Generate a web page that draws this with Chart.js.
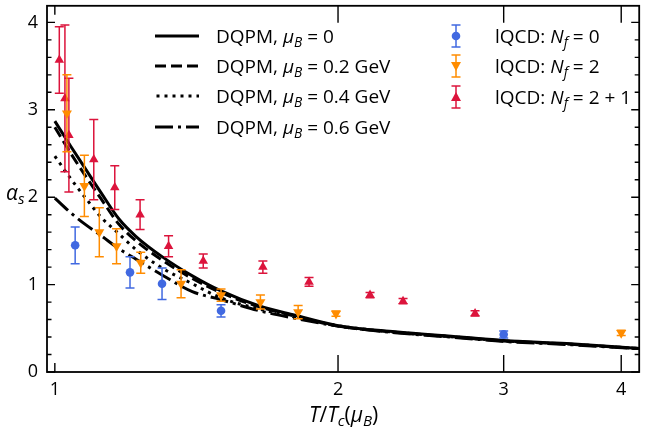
<!DOCTYPE html>
<html>
<head>
<meta charset="utf-8">
<script src="https://cdn.jsdelivr.net/npm/chart.js@4.4.0/dist/chart.umd.min.js"></script>
<style>
  body { margin: 0; background: #fff; }
  #wrap { position: relative; width: 645px; height: 434px; font-family: "Open Sans", sans-serif; color: #000; }
  #wrap canvas { position: absolute; left: 0; top: 0; }
  .txt { position: absolute; white-space: nowrap; font-size: 19px; line-height: 22px; }
  .txt sub { font-size: 0.72em; position: relative; top: 0.28em; vertical-align: baseline; line-height: 0; }
  .sample { position: absolute; }
</style>
</head>
<body>
<div id="wrap">
  <canvas id="canvas-1" width="645" height="434"></canvas>

  <svg class="sample" style="left:155px;top:31px" width="44" height="10"><line x1="0" y1="5" x2="44" y2="5" stroke="#000" stroke-width="3"/></svg>
  <div class="txt" style="left:216px;top:25px">DQPM, <i>μ</i><sub><i>B</i></sub> = 0</div>
  <svg class="sample" style="left:155px;top:61px" width="44" height="10"><line x1="0" y1="5" x2="44" y2="5" stroke="#000" stroke-width="3" stroke-dasharray="11,5"/></svg>
  <div class="txt" style="left:216px;top:55px">DQPM, <i>μ</i><sub><i>B</i></sub> = 0.2 GeV</div>
  <svg class="sample" style="left:155px;top:91px" width="44" height="10"><line x1="1.5" y1="5" x2="44" y2="5" stroke="#000" stroke-width="3" stroke-dasharray="3,5"/></svg>
  <div class="txt" style="left:216px;top:85px">DQPM, <i>μ</i><sub><i>B</i></sub> = 0.4 GeV</div>
  <svg class="sample" style="left:155px;top:122px" width="44" height="10"><line x1="0" y1="5" x2="44" y2="5" stroke="#000" stroke-width="3" stroke-dasharray="18,5,3,5"/></svg>
  <div class="txt" style="left:216px;top:116px">DQPM, <i>μ</i><sub><i>B</i></sub> = 0.6 GeV</div>

  <svg class="sample" style="left:446px;top:24px" width="20" height="24">
    <g stroke="#4169E1" stroke-width="1.5"><line x1="10" y1="1" x2="10" y2="23"/><line x1="5.5" y1="1" x2="14.5" y2="1"/><line x1="5.5" y1="23" x2="14.5" y2="23"/></g>
    <circle cx="10" cy="12" r="4.3" fill="#4169E1"/>
  </svg>
  <div class="txt" style="left:495px;top:25px">lQCD: <i>N</i><sub><i>f</i></sub> = 0</div>
  <svg class="sample" style="left:446px;top:54px" width="20" height="24">
    <g stroke="#FF8C00" stroke-width="1.5"><line x1="10" y1="1" x2="10" y2="23"/><line x1="5.5" y1="1" x2="14.5" y2="1"/><line x1="5.5" y1="23" x2="14.5" y2="23"/></g>
    <polygon points="5,8 15,8 10,17" fill="#FF8C00"/>
  </svg>
  <div class="txt" style="left:495px;top:55px">lQCD: <i>N</i><sub><i>f</i></sub> = 2</div>
  <svg class="sample" style="left:446px;top:85px" width="20" height="24">
    <g stroke="#DC143C" stroke-width="1.5"><line x1="10" y1="1" x2="10" y2="23"/><line x1="5.5" y1="1" x2="14.5" y2="1"/><line x1="5.5" y1="23" x2="14.5" y2="23"/></g>
    <polygon points="5,16 15,16 10,7" fill="#DC143C"/>
  </svg>
  <div class="txt" style="left:495px;top:86px">lQCD: <i>N</i><sub><i>f</i></sub> = 2 + 1</div>

  <div class="txt" style="left:6px;top:181px;font-size:21px"><i>α</i><sub><i>s</i></sub></div>
  <div class="txt" style="left:309px;top:403px;font-size:21px"><i>T</i>/<i>T</i><sub><i>c</i></sub>(<i>μ</i><sub><i>B</i></sub>)</div>
</div>

<script>
  'use strict';

  // axis ticks
  var tTicks = [1, 2, 3, 4];
  var alphaTicks = [0, 1, 2, 3, 4];

  // DQPM curves
  var dqpmT = [1.0, 1.04, 1.08, 1.12, 1.17, 1.22, 1.3, 1.4, 1.5, 1.65, 1.8, 2.0, 2.3, 2.7, 3.0, 3.5, 4.18];
  var dqpmMu00 = [2.87, 2.58, 2.31, 2.05, 1.75, 1.55, 1.32, 1.10, 0.93, 0.755, 0.65, 0.53, 0.46, 0.40, 0.36, 0.325, 0.27];
  var dqpmMu02 = [2.80, 2.50, 2.23, 1.98, 1.69, 1.50, 1.28, 1.07, 0.91, 0.745, 0.64, 0.525, 0.455, 0.395, 0.355, 0.32, 0.268];
  var dqpmMu04 = [2.47, 2.21, 1.98, 1.77, 1.58, 1.40, 1.19, 1.01, 0.85, 0.72, 0.63, 0.53, 0.455, 0.395, 0.355, 0.32, 0.267];
  var dqpmMu06 = [1.99, 1.82, 1.68, 1.56, 1.41, 1.29, 1.11, 0.92, 0.83, 0.70, 0.615, 0.525, 0.45, 0.39, 0.35, 0.315, 0.265];

  // lattice QCD points
  var nf0T = [1.051, 1.202, 1.300, 1.502, 3.0];
  var nf0A = [1.45, 1.14, 1.01, 0.70, 0.43];
  var nf0E = [0.21, 0.18, 0.18, 0.07, 0.04];

  var nf2T = [1.030, 1.075, 1.115, 1.163, 1.234, 1.362, 1.502, 1.654, 1.814, 1.99, 4.0];
  var nf2A = [2.96, 2.13, 1.60, 1.44, 1.25, 1.01, 0.88, 0.80, 0.685, 0.667, 0.447];
  var nf2E = [0.44, 0.35, 0.28, 0.20, 0.12, 0.16, 0.07, 0.08, 0.075, 0.03, 0.03];

  var nf21T = [1.011, 1.025, 1.035, 1.100, 1.158, 1.232, 1.321, 1.438, 1.664, 1.863, 2.163, 2.345, 2.797];
  var nf21A = [3.57, 3.13, 2.71, 2.43, 2.11, 1.80, 1.44, 1.27, 1.20, 1.03, 0.88, 0.81, 0.67];
  var nf21E = [0.38, 0.84, 0.65, 0.46, 0.25, 0.17, 0.12, 0.08, 0.07, 0.05, 0.03, 0.03, 0.03];

  function pts(xs, ys) {
    return xs.map(function (v, i) { return { x: v, y: ys[i] }; });
  }

  function curve(vals, dash) {
    return {
      data: pts(dqpmT, vals),
      showLine: true,
      borderColor: '#000',
      borderWidth: 3,
      borderDash: dash,
      pointRadius: 0,
      cubicInterpolationMode: 'monotone',
      order: 2
    };
  }

  function lqcd(xs, ys, errs, color, style, rot, r) {
    return {
      data: pts(xs, ys),
      errors: errs,
      backgroundColor: color,
      borderColor: color,
      borderWidth: 0,
      pointStyle: style,
      rotation: rot,
      pointRadius: r,
      order: 1
    };
  }

  var errorBars = {
    id: 'errorBars',
    beforeDatasetDraw: function (chart, args) {
      var ds = chart.data.datasets[args.index];
      if (!ds.errors) return;
      var ctx = chart.ctx, xs = chart.scales.x, ys = chart.scales.y;
      ctx.save();
      ctx.strokeStyle = ds.borderColor;
      ctx.lineWidth = 1.5;
      ds.data.forEach(function (p, i) {
        var px = xs.getPixelForValue(p.x);
        var top = ys.getPixelForValue(p.y + ds.errors[i]);
        var bot = ys.getPixelForValue(p.y - ds.errors[i]);
        ctx.beginPath();
        ctx.moveTo(px, top); ctx.lineTo(px, bot);
        ctx.moveTo(px - 4.5, top); ctx.lineTo(px + 4.5, top);
        ctx.moveTo(px - 4.5, bot); ctx.lineTo(px + 4.5, bot);
        ctx.stroke();
      });
      ctx.restore();
    }
  };

  // frame + inward tick marks on all four sides
  var frameTicks = {
    id: 'frameTicks',
    afterDraw: function (chart) {
      var ctx = chart.ctx, a = chart.chartArea, xs = chart.scales.x, ys = chart.scales.y;
      ctx.save();
      ctx.strokeStyle = '#000';
      ctx.lineWidth = 1.8;
      ctx.strokeRect(a.left, a.top, a.right - a.left, a.bottom - a.top);
      ctx.lineWidth = 1.4;
      ctx.beginPath();
      for (var k = 0; k <= 21; k++) {
        var v = k * 0.2;
        if (v > ys.max) break;
        var py = ys.getPixelForValue(v);
        var len = (k % 5 === 0) ? 8 : 4.5;
        ctx.moveTo(a.left, py); ctx.lineTo(a.left + len, py);
        ctx.moveTo(a.right, py); ctx.lineTo(a.right - len, py);
      }
      tTicks.forEach(function (t) {
        var px = xs.getPixelForValue(t);
        var len = t === 1 ? 9 : 17;
        ctx.moveTo(px, a.bottom); ctx.lineTo(px, a.bottom - len);
        ctx.moveTo(px, a.top); ctx.lineTo(px, a.top + len);
      });
      ctx.stroke();
      ctx.restore();
    }
  };

  var ctx = document.getElementById('canvas-1');
  var chart = new Chart(ctx, {
    type: 'scatter',
    data: {
      datasets: [
        curve(dqpmMu00, []),
        curve(dqpmMu02, [11, 5]),
        curve(dqpmMu04, [3, 5]),
        curve(dqpmMu06, [18, 5, 3, 5]),
        lqcd(nf0T, nf0A, nf0E, '#4169E1', 'circle', 0, 4.3),
        lqcd(nf2T, nf2A, nf2E, '#FF8C00', 'triangle', 180, 5.8),
        lqcd(nf21T, nf21A, nf21E, '#DC143C', 'triangle', 0, 5.5)
      ]
    },
    options: {
      responsive: false,
      animation: false,
      layout: { padding: { top: 3, right: 1, left: 0, bottom: 0 } },
      plugins: { legend: { display: false }, tooltip: { enabled: false } },
      scales: {
        x: {
          type: 'logarithmic',
          min: 0.981,
          max: 4.18,
          grid: { display: false, drawTicks: false },
          border: { display: false },
          afterBuildTicks: function (scale) {
            scale.ticks = tTicks.map(function (v) { return { value: v }; });
          },
          afterFit: function (scale) {
            scale.height = 62;
            scale.paddingLeft = 0;
            scale.paddingRight = 0;
          },
          ticks: {
            padding: 7,
            color: '#000',
            font: { family: 'Open Sans', size: 18 },
            maxRotation: 0,
            autoSkip: false,
            callback: function (v) { return String(v); }
          }
        },
        y: {
          min: 0,
          max: 4.19,
          grid: { display: false, drawTicks: false },
          border: { display: false },
          afterBuildTicks: function (scale) {
            scale.ticks = alphaTicks.map(function (v) { return { value: v }; });
          },
          afterFit: function (scale) {
            scale.width = 47;
            scale.paddingTop = 0;
            scale.paddingBottom = 0;
          },
          ticks: {
            padding: 9,
            color: '#000',
            font: { family: 'Open Sans', size: 18 },
            callback: function (v) { return String(v); }
          }
        }
      }
    },
    plugins: [errorBars, frameTicks]
  });
</script>
</body>
</html>
